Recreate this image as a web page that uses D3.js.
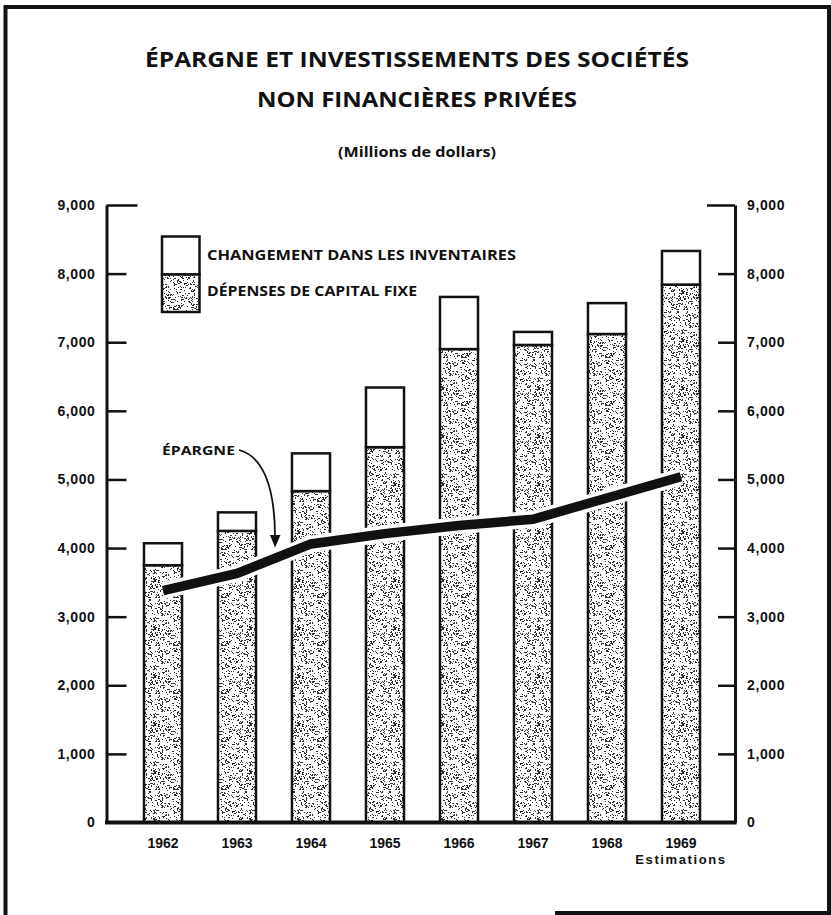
<!DOCTYPE html>
<html>
<head>
<meta charset="utf-8">
<script src="https://cdn.jsdelivr.net/npm/d3@7"></script>
<style>
  body { margin: 0; background: #fff; }
  text { font-family: "Liberation Sans", Arial, sans-serif; font-weight: bold; fill: #111; }
  .ttl { font-family: "Open Sans", "DejaVu Sans", sans-serif; font-weight: 700; }
</style>
</head>
<body>
<div id="chart"></div>
<script>
// Data (millions de dollars)
const years = ["1962", "1963", "1964", "1965", "1966", "1967", "1968", "1969"];
const capitalFixe = [3750, 4250, 4830, 5470, 6900, 6960, 7120, 7840];   // dépenses de capital fixe
const inventaires = [320, 270, 550, 870, 760, 190, 450, 490];          // changement dans les inventaires
const epargne = [3380, 3630, 4060, 4210, 4330, 4420, 4730, 5040];      // épargne
const yTicks = [0, 1000, 2000, 3000, 4000, 5000, 6000, 7000, 8000, 9000];

const width = 831, height = 915;
const svg = d3.select("#chart").append("svg").attr("width", width).attr("height", height);

// stipple texture for the capital part
const defs = svg.append("defs");
const pat = defs.append("pattern").attr("id", "stip").attr("patternUnits", "userSpaceOnUse")
  .attr("width", 48).attr("height", 48);
pat.append("rect").attr("width", 48).attr("height", 48).attr("fill", "#fff");
let seed = 7;
function lcg() { seed = (seed * 1103515245 + 12345) % 2147483648; return seed / 2147483648; }
for (let k = 0; k < 430; k++) {
  pat.append("rect").attr("x", Math.floor(lcg() * 48)).attr("y", Math.floor(lcg() * 48))
    .attr("width", lcg() < 0.2 ? 2 : 1).attr("height", 1).attr("fill", "#333");
}

// scales
const x = d3.scaleBand().domain(years).range([126, 718]).paddingInner(0.486).paddingOuter(0.243);
const y = d3.scaleLinear().domain([0, 9000]).range([822.5, 205]);

// frame of the page
svg.append("path").attr("d", "M555,913H829V7H5.5V915")
  .attr("fill", "none").attr("stroke", "#111").attr("stroke-width", 4);

// titles
svg.append("text").attr("class", "ttl").text("ÉPARGNE ET INVESTISSEMENTS DES SOCIÉTÉS")
  .attr("x", 417).attr("y", 66.5).attr("text-anchor", "middle").attr("font-size", 21)
  .attr("textLength", 544).attr("lengthAdjust", "spacingAndGlyphs");
svg.append("text").attr("class", "ttl").text("NON FINANCIÈRES PRIVÉES")
  .attr("x", 417).attr("y", 107).attr("text-anchor", "middle").attr("font-size", 21)
  .attr("textLength", 320).attr("lengthAdjust", "spacingAndGlyphs");
svg.append("text").attr("class", "ttl").text("(Millions de dollars)")
  .attr("x", 417).attr("y", 157).attr("text-anchor", "middle").attr("font-size", 14)
  .attr("textLength", 158).attr("lengthAdjust", "spacingAndGlyphs");

// stacked bars
const rows = years.map((yr, i) => ({ year: yr, capital: capitalFixe[i], inventaires: inventaires[i] }));
const series = d3.stack().keys(["capital", "inventaires"])(rows);
svg.append("g").selectAll("g").data(series).join("g")
  .attr("fill", d => d.key === "capital" ? "url(#stip)" : "#fff")
  .selectAll("rect").data(d => d).join("rect")
  .attr("x", d => x(d.data.year))
  .attr("width", x.bandwidth())
  .attr("y", d => y(d[1]))
  .attr("height", d => y(d[0]) - y(d[1]))
  .attr("stroke", "#111").attr("stroke-width", 2.5);

// épargne line with white halo
const line = d3.line().x((d, i) => x(years[i]) + x.bandwidth() / 2).y(d => y(d));
svg.append("path").datum(epargne).attr("d", line)
  .attr("fill", "none").attr("stroke", "#fff").attr("stroke-width", 17);
svg.append("path").datum(epargne).attr("d", line)
  .attr("fill", "none").attr("stroke", "#111").attr("stroke-width", 9.5);

// axes
const fmt = d3.format(",");
const yl = svg.append("g").attr("transform", "translate(106.5,0)")
  .call(d3.axisLeft(y).tickValues(yTicks).tickSizeInner(-20).tickSizeOuter(0).tickPadding(11).tickFormat(fmt));
const yr = svg.append("g").attr("transform", "translate(735,0)")
  .call(d3.axisRight(y).tickValues(yTicks).tickSizeInner(-17).tickSizeOuter(0).tickPadding(12).tickFormat(fmt));
[yl, yr].forEach(g => {
  g.attr("font-family", null).attr("font-size", null);
  g.select(".domain").attr("stroke", "#111").attr("stroke-width", 3);
  g.selectAll(".tick line").attr("stroke", "#111").attr("stroke-width", 2.5);
  g.selectAll(".tick text").attr("font-size", 14).attr("letter-spacing", 0.6).attr("fill", "#111");
});
yl.selectAll(".tick line").filter(d => d === 9000).attr("x2", 31);
yr.selectAll(".tick line").filter(d => d === 9000).attr("x2", -28);
yl.selectAll(".tick line").filter(d => d === 0).remove();
yr.selectAll(".tick line").filter(d => d === 0).remove();

// baseline
svg.append("line").attr("x1", 105).attr("x2", 736.5).attr("y1", y(0)).attr("y2", y(0))
  .attr("stroke", "#111").attr("stroke-width", 4);

// year labels
svg.append("g").selectAll("text").data(years).join("text")
  .attr("x", d => x(d) + x.bandwidth() / 2).attr("y", 848)
  .attr("text-anchor", "middle").attr("font-size", 14).text(d => d);
svg.append("text").text("Estimations").attr("x", x("1969") + x.bandwidth() / 2).attr("y", 863.5)
  .attr("text-anchor", "middle").attr("font-size", 13).attr("letter-spacing", 1.6);

// legend
const lg = svg.append("g");
lg.append("rect").attr("x", 162).attr("y", 236.5).attr("width", 37.5).attr("height", 38)
  .attr("fill", "#fff").attr("stroke", "#111").attr("stroke-width", 2.5);
lg.append("rect").attr("x", 162).attr("y", 274.5).attr("width", 37.5).attr("height", 37.5)
  .attr("fill", "url(#stip)").attr("stroke", "#111").attr("stroke-width", 2.5);
lg.append("text").attr("class", "ttl").text("CHANGEMENT DANS LES INVENTAIRES")
  .attr("x", 207).attr("y", 260).attr("font-size", 14)
  .attr("textLength", 309).attr("lengthAdjust", "spacingAndGlyphs");
lg.append("text").attr("class", "ttl").text("DÉPENSES DE CAPITAL FIXE")
  .attr("x", 207).attr("y", 296).attr("font-size", 14)
  .attr("textLength", 210).attr("lengthAdjust", "spacingAndGlyphs");

// épargne label and arrow
svg.append("text").attr("class", "ttl").text("ÉPARGNE").attr("x", 162).attr("y", 455)
  .attr("font-size", 13).attr("textLength", 73).attr("lengthAdjust", "spacingAndGlyphs");
svg.append("path").attr("d", "M239,450 C262,456 275,485 275,537")
  .attr("fill", "none").attr("stroke", "#111").attr("stroke-width", 1.8);
svg.append("path").attr("d", "M270,535 L280.5,535 L275,547.5 Z").attr("fill", "#111");
</script>
</body>
</html>
